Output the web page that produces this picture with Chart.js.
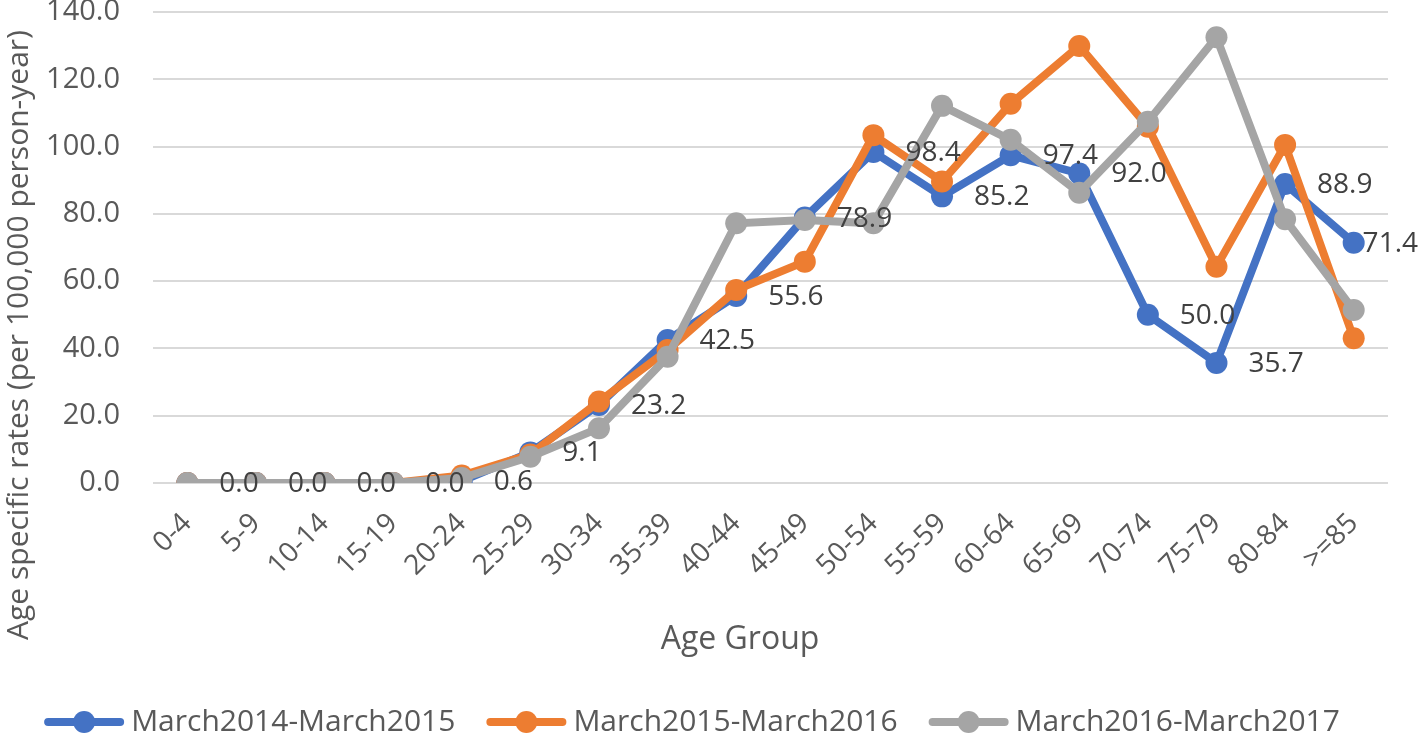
<!DOCTYPE html>
<html>
<head>
<meta charset="utf-8">
<script src="https://cdn.jsdelivr.net/npm/chart.js@4/dist/chart.umd.min.js"></script>
<style>
  html, body { margin: 0; padding: 0; background: #fff; }
  #wrap { width: 1418px; height: 735px; position: relative; }
</style>
</head>
<body>
<div id="wrap"><canvas id="chart-age-rates"></canvas></div>
<script>
// ── Data ────────────────────────────────────────────────────────────────────
const AGE_GROUPS = ['0-4', '5-9', '10-14', '15-19', '20-24', '25-29', '30-34', '35-39', '40-44',
                    '45-49', '50-54', '55-59', '60-64', '65-69', '70-74', '75-79', '80-84', '>=85'];
const RATES_2014_15 = [0.0, 0.0, 0.0, 0.0, 0.6, 9.1, 23.2, 42.5, 55.6, 78.9, 98.4, 85.2, 97.4, 92.0, 50.0, 35.7, 88.9, 71.4];
const RATES_2015_16 = [0.0, 0.0, 0.0, 0.0, 2.2, 8.5, 24.2, 39.5, 57.4, 65.8, 103.4, 89.6, 112.7, 129.9, 105.9, 64.3, 100.5, 43.0];
const RATES_2016_17 = [0.0, 0.0, 0.0, 0.0, 1.5, 7.8, 16.3, 37.5, 77.2, 78.2, 77.2, 112.1, 102.0, 86.3, 107.4, 132.5, 78.4, 51.4];
const SERIES_NAMES  = ['March2014-March2015', 'March2015-March2016', 'March2016-March2017'];
const Y_MIN = 0, Y_MAX = 140, Y_STEP = 20;

const COLORS = ['#4472C4', '#ED7D31', '#A5A5A5'];
const FONT   = '"Open Sans", Lato, sans-serif';
const TEXT   = '#595959';

// ── Extra drawing: y title, x title, data labels, legend ───────────────────
const decorations = {
  id: 'decorations',
  afterDraw(chart) {
    const ctx = chart.ctx;
    const W = chart.width;
    ctx.save();

    // y-axis title (centred on the whole left side, like Excel does)
    ctx.fillStyle = TEXT;
    ctx.font = `30px ${FONT}`;
    ctx.textAlign = 'center';
    ctx.textBaseline = 'middle';
    ctx.translate(19, 335);
    ctx.rotate(-Math.PI / 2);
    ctx.fillText('Age specific rates (per 100,000 person-year)', 0, 0);
    ctx.setTransform(1, 0, 0, 1, 0, 0);

    // x-axis title
    ctx.font = `32px ${FONT}`;
    ctx.fillText('Age Group', 740, 640);

    // data labels for the first series, to the right of each point
    const meta = chart.getDatasetMeta(0);
    ctx.font = `28px ${FONT}`;
    ctx.fillStyle = '#404040';
    ctx.textAlign = 'left';
    meta.data.forEach((pt, i) => {
      const txt = RATES_2014_15[i].toFixed(1);
      const w = ctx.measureText(txt).width;
      const x = Math.min(pt.x + 32, W - w);
      ctx.fillText(txt, x, pt.y + 1);
    });

    // legend
    ctx.font = `30px ${FONT}`;
    const lineW = 80, gapText = 7, gapItem = 31;
    const widths = SERIES_NAMES.map(n => ctx.measureText(n).width);
    const total = widths.reduce((a, b) => a + b, 0) + SERIES_NAMES.length * (lineW + gapText) + (SERIES_NAMES.length - 1) * gapItem;
    let x = 692 - total / 2;
    const y = 722;
    SERIES_NAMES.forEach((name, i) => {
      ctx.strokeStyle = COLORS[i];
      ctx.lineWidth = 8;
      ctx.lineCap = 'round';
      ctx.beginPath();
      ctx.moveTo(x + 4, y);
      ctx.lineTo(x + lineW - 4, y);
      ctx.stroke();
      ctx.fillStyle = COLORS[i];
      ctx.beginPath();
      ctx.arc(x + lineW / 2, y, 11, 0, Math.PI * 2);
      ctx.fill();
      ctx.fillStyle = TEXT;
      ctx.textAlign = 'left';
      ctx.textBaseline = 'middle';
      ctx.fillText(name, x + lineW + gapText, y);
      x += lineW + gapText + widths[i] + gapItem;
    });

    ctx.restore();
  }
};

// ── Chart ───────────────────────────────────────────────────────────────────
const seriesData = [RATES_2014_15, RATES_2015_16, RATES_2016_17];

new Chart(document.getElementById('chart-age-rates').getContext('2d'), {
  type: 'line',
  data: {
    labels: AGE_GROUPS,
    datasets: seriesData.map((vals, i) => ({
      label: SERIES_NAMES[i],
      data: vals,
      borderColor: COLORS[i],
      backgroundColor: COLORS[i],
      borderWidth: 8,
      pointRadius: 11,
      pointHoverRadius: 11,
      pointBorderWidth: 0,
      tension: 0,
      order: 2 - i, // grey on top, like Excel
    }))
  },
  options: {
    responsive: true,
    maintainAspectRatio: false,
    animation: false,
    events: [],
    layout: { padding: { top: 12, right: 30, bottom: 0, left: 0 } },
    plugins: {
      legend: { display: false },
      tooltip: { enabled: false },
    },
    scales: {
      x: {
        offset: true,
        grid: { display: false },
        border: { display: false },
        ticks: {
          color: TEXT,
          font: { family: FONT, size: 28 },
          minRotation: 45,
          maxRotation: 45,
          autoSkip: false,
          padding: 16,
        },
        afterFit: s => { s.height = 735 - 483; },
      },
      y: {
        min: Y_MIN,
        max: Y_MAX,
        grid: { color: '#D9D9D9', lineWidth: 2, drawTicks: false },
        border: { display: false },
        ticks: {
          stepSize: Y_STEP,
          color: TEXT,
          font: { family: FONT, size: 29 },
          padding: 33,
          callback: v => v.toFixed(1),
        },
        afterFit: s => { s.width = 153; s.paddingTop = 0; s.paddingBottom = 0; },
      }
    }
  },
  plugins: [decorations]
});
</script>
</body>
</html>
